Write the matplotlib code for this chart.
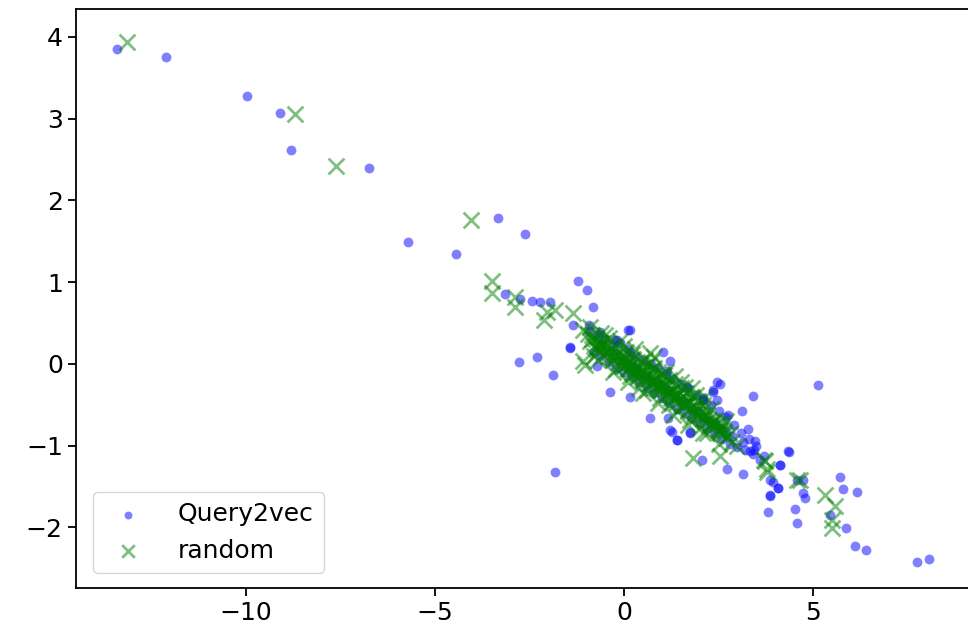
import matplotlib
matplotlib.use("Agg")
import matplotlib.pyplot as plt

# Query2vec points (blue dots)
q_x = [
    -13.42, -12.12, -9.97, -9.10, -8.81, -6.75, -5.72, -4.44, -3.33, -2.63,
    -1.21, -0.99, -3.15, -2.44, -2.22, -1.96, -2.75, -0.83, 0.11, -1.43,
    -2.77, -2.31, -1.87, -0.94, -0.63, -0.24, -1.84,
    0.16, -1.43, -0.72, -0.37, 0.16, 1.04, 1.22, 1.13, 0.69, 1.22, 1.39,
    2.10, 2.36, 2.45, 1.66, 0.16, -0.19, -1.34, 1.75,
    2.54, 2.36, 2.45, 2.10, 3.42, 5.13, 3.11, 2.76, 3.29, 3.47, 4.35, 3.33,
    1.17, 1.26, 1.39, 1.75, 2.06, 2.72, 3.16, 3.86, 4.08, 3.86, 4.74, 4.57, 4.13,
    4.37, 4.13, 3.95, 4.08, 3.86, 3.82, 4.52, 4.57, 4.74, 4.79, 5.71, 5.80,
    6.16, 5.45, 5.87, 6.11, 6.40, 7.76, 8.07,
    -0.90, -0.80, -0.70, -0.60, -0.50, -0.40, -0.30, -0.20, -0.10, 0.00,
    0.10, 0.20, 0.30, 0.40, 0.50, 0.60, 0.70, 0.80, 0.90, 1.00,
    1.10, 1.20, 1.30, 1.40, 1.50, 1.60, 1.70, 1.80, 1.90, 2.00,
    2.10, 2.20, 2.30, 2.40, 2.50, 2.60, 2.70, 2.80, 2.90, 3.00,
    3.10, 3.20, 3.30, 3.40, 3.50, 3.60, 3.70,
    0.00, 0.30, 0.60, 0.90, 1.20, 1.50, 1.80, 2.10, 2.40, 2.70,
    0.15, 0.45, 0.75, 1.05, 1.35, 1.65, 1.95, 2.25, 2.55, 2.85, 3.15, 3.45,
]
q_y = [
    3.85, 3.75, 3.28, 3.07, 2.61, 2.40, 1.49, 1.34, 1.78, 1.59,
    1.01, 0.91, 0.86, 0.77, 0.76, 0.76, 0.79, 0.69, 0.42, 0.20,
    0.02, 0.08, -0.13, 0.48, 0.39, 0.29, -1.32,
    0.42, 0.21, -0.03, -0.34, -0.40, 0.15, 0.03, -0.09, -0.66, -0.81, -0.93,
    -0.44, -0.32, -0.22, -0.28, 0.15, 0.29, 0.48, -0.85,
    -0.24, -0.34, -0.44, -0.44, -0.39, -0.26, -0.57, -0.62, -0.80, -0.94, -1.06, -1.06,
    -0.66, -0.83, -0.93, -0.83, -1.17, -1.28, -1.34, -1.42, -1.52, -1.60, -1.58, -1.42, -1.23,
    -1.08, -1.23, -1.44, -1.52, -1.62, -1.81, -1.77, -1.95, -1.42, -1.64, -1.38, -1.53,
    -1.57, -1.85, -2.01, -2.23, -2.28, -2.42, -2.38,
    0.40, 0.15, 0.35, 0.10, 0.30, 0.02, 0.22, -0.05, 0.25, -0.10,
    0.18, -0.15, 0.10, -0.22, 0.05, -0.30, 0.00, -0.35, -0.05, -0.42,
    -0.12, -0.48, -0.18, -0.55, -0.25, -0.60, -0.30, -0.66, -0.38, -0.72,
    -0.42, -0.80, -0.50, -0.85, -0.58, -0.92, -0.65, -0.98, -0.75, -1.02,
    -0.85, -1.05, -0.92, -1.10, -1.00, -1.18, -1.12,
    0.05, -0.05, -0.15, -0.25, -0.32, -0.45, -0.55, -0.65, -0.72, -0.82,
    -0.02, -0.12, -0.22, -0.30, -0.40, -0.48, -0.58, -0.70, -0.78, -0.88, -0.95, -1.05,
]

# random points (green crosses)
r_x = [
    -13.16, -8.70, -7.62, -4.06, -3.49, -3.49, -2.88, -2.88, -2.04, -2.13,
    -1.83, -1.34, -1.08, -1.03, 0.69, -1.08, 1.83, 3.69, 3.77, 4.66,
    3.73, 3.77, 4.57, 5.32, 5.58, 5.49, 5.49, 2.54, 0.78, 2.54,
    -0.95, -0.90, -0.85, -0.80, -0.75, -0.70, -0.65, -0.60, -0.55, -0.50,
    -0.45, -0.40, -0.35, -0.30, -0.25, -0.20, -0.15, -0.10, -0.05, 0.00,
    0.05, 0.10, 0.15, 0.20, 0.25, 0.30, 0.35, 0.40, 0.45, 0.50,
    0.55, 0.60, 0.65, 0.70, 0.75, 0.80, 0.85, 0.90, 0.95, 1.00,
    1.05, 1.10, 1.15, 1.20, 1.25, 1.30, 1.35, 1.40, 1.45, 1.50,
    1.55, 1.60, 1.65, 1.70, 1.75, 1.80, 1.85, 1.90, 1.95, 2.00,
    2.05, 2.10, 2.15, 2.20, 2.30, 2.40, 2.50, 2.60, 2.70, 2.80,
    -0.20, 0.00, 0.20, 0.40, 0.60, 0.80, 1.00, 1.20, 1.40, 1.60,
    0.30, 0.50, 0.70, 0.90, 1.10, 1.30, -0.40, -0.60, 0.10, 1.70,
    1.90, 2.10, 2.25, 2.35, 2.45, 2.55, 2.65, 2.85, 3.00,
    -0.90, -0.70, -0.50, -0.30, -0.10, 0.10, 0.30, 0.50, 0.70, 0.90,
    1.10, 1.30, 1.50, 1.70, 1.90, 2.10, 2.30, 2.50, 2.70, -0.60,
    -0.20, 0.20, 0.60, 1.00, 1.40, 1.80, 2.20, 0.00, 0.40, 0.80,
    1.20, 1.60, 2.00, -0.80, -0.40, 0.15, 0.55, 0.95, 1.35, 1.75, 2.15,
    -0.85, -0.65, -0.45, -0.25, -0.05, 0.15, 0.35, 0.55, 0.75, 0.95,
    1.15, 1.35, 1.55, 1.75, 1.95, 2.15, 2.35, 2.55, -0.75, -0.55,
    -0.35, -0.15, 0.05, 0.25, 0.45, 0.65, 0.85, 1.05, 1.25, 1.45,
    1.65, 1.85, 2.05, 2.25, 2.45, 2.65,
]
r_y = [
    3.94, 3.06, 2.42, 1.76, 1.01, 0.87, 0.82, 0.70, 0.64, 0.54,
    0.66, 0.62, 0.42, -0.01, 0.13, 0.03, -1.15, -1.17, -1.28, -1.42,
    -1.19, -1.32, -1.42, -1.60, -1.74, -1.91, -2.01, -1.13, 0.09, -0.72,
    0.36, 0.28, 0.35, 0.22, 0.30, 0.17, 0.27, 0.25, 0.12, 0.20,
    0.24, 0.10, 0.18, 0.05, 0.14, 0.20, 0.02, 0.10, -0.02, 0.08,
    0.14, -0.06, 0.03, -0.10, 0.06, -0.02, -0.16, -0.05, 0.02, -0.20,
    -0.10, -0.03, -0.24, -0.14, -0.06, -0.28, -0.18, -0.10, -0.32, -0.22,
    -0.14, -0.38, -0.27, -0.20, -0.42, -0.33, -0.25, -0.46, -0.37, -0.30,
    -0.52, -0.42, -0.35, -0.56, -0.47, -0.40, -0.60, -0.52, -0.45, -0.64,
    -0.57, -0.50, -0.70, -0.62, -0.72, -0.68, -0.82, -0.78, -0.90, -0.86,
    0.08, -0.02, 0.00, -0.14, -0.15, -0.20, -0.30, -0.35, -0.38, -0.50,
    -0.08, -0.12, -0.22, -0.26, -0.30, -0.40, 0.16, 0.18, 0.02, -0.45,
    -0.60, -0.62, -0.68, -0.76, -0.74, -0.85, -0.82, -0.95, -1.00,
    0.45, 0.05, 0.35, -0.10, 0.28, -0.22, 0.18, -0.35, 0.02, -0.48,
    -0.10, -0.62, -0.22, -0.75, -0.38, -0.85, -0.55, -0.98, -0.70, 0.38,
    -0.06, 0.12, -0.32, -0.12, -0.58, -0.30, -0.84, 0.22, -0.30, -0.05,
    -0.50, -0.28, -0.78, 0.10, 0.32, -0.15, 0.05, -0.42, -0.15, -0.68, -0.40,
    0.30, 0.22, 0.15, 0.10, 0.04, -0.04, -0.10, -0.16, -0.22, -0.28,
    -0.34, -0.42, -0.48, -0.55, -0.62, -0.66, -0.72, -0.80, 0.20, 0.25,
    0.08, 0.12, 0.00, -0.12, -0.08, -0.18, -0.30, -0.25, -0.38, -0.44,
    -0.50, -0.58, -0.66, -0.76, -0.80, -0.86,
]

plt.rcParams['font.family'] = ['DejaVu Sans']
plt.rcParams['font.size'] = 18

fig = plt.figure(figsize=(9.68, 6.32), dpi=100)
ax = fig.add_axes([76/968, 44/632, (985-76)/968, 579/632])

ax.scatter(q_x, q_y, s=50, c='blue', alpha=0.5, marker='o', linewidths=0, label='Query2vec')
ax.scatter(r_x, r_y, s=130, c='green', alpha=0.5, marker='x', linewidths=2.0, label='random')

ax.set_xlim(-14.5, 9.55)
ax.set_ylim(-2.74, 4.34)
ax.set_xticks([-10, -5, 0, 5])
ax.set_yticks([-2, -1, 0, 1, 2, 3, 4])
for s in ax.spines.values():
    s.set_linewidth(1.3)
ax.tick_params(length=6, width=1.3, labelsize=18)

leg = ax.legend(loc='lower left', fontsize=18, borderpad=0.4, handletextpad=1.0,
                markerscale=0.8, bbox_to_anchor=(0.005, 0.005))

fig.savefig('out.png', dpi=100)
